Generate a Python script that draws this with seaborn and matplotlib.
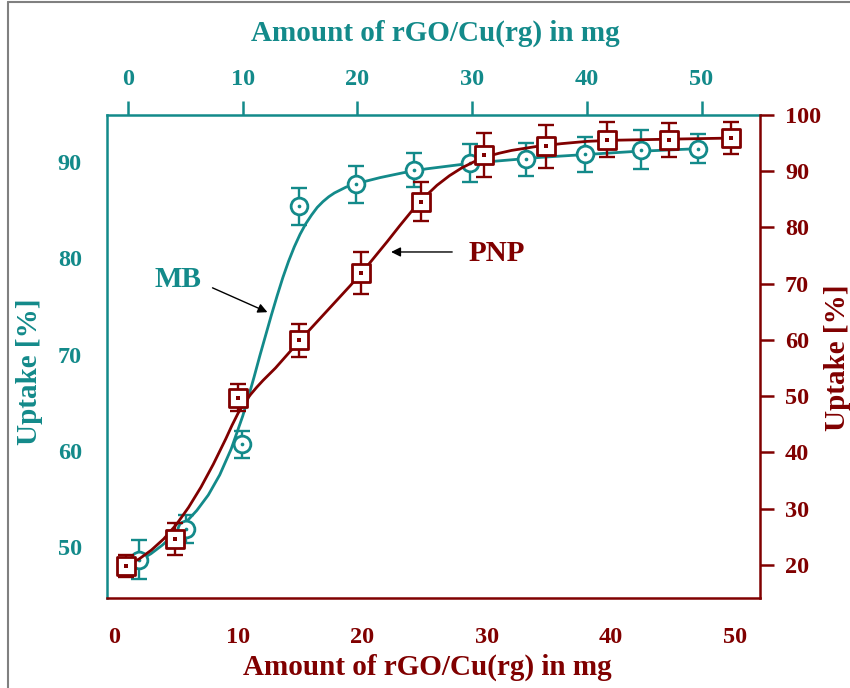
import numpy as np
import pandas as pd
import seaborn as sns
import matplotlib.pyplot as plt
from matplotlib.lines import Line2D

# MB (teal) - top x axis / left y axis
mb_x = [1.0, 5.1, 9.9, 14.9, 19.9, 24.9, 29.8, 34.7, 39.8, 44.7, 49.7]
mb_y = [48.7, 51.9, 60.7, 85.4, 87.7, 89.2, 89.9, 90.3, 90.8, 91.3, 91.4]
mb_err = [2.0, 1.45, 1.4, 1.95, 1.9, 1.8, 2.0, 1.7, 1.85, 2.0, 1.5]

# fitted curve for MB
mb_fit_x = [1.0, 2.0, 3.0, 4.0, 5.0, 6.0, 7.0, 8.0, 9.0, 10.0, 10.5, 11.0, 11.5, 12.0,
            12.5, 13.0, 13.5, 14.0, 14.5, 15.0, 15.5, 16.0, 16.5, 17.0, 17.5, 18.0,
            19.0, 20.0, 21.0, 22.0, 24.0, 26.0, 28.0, 30.0, 33.0, 36.0, 40.0, 44.0,
            47.8, 49.7]
mb_fit_y = [48.6, 49.3, 50.2, 51.3, 52.5, 53.8, 55.4, 57.5, 60.2, 63.6, 65.6, 67.7,
            69.9, 72.0, 74.1, 76.1, 78.0, 79.7, 81.2, 82.5, 83.6, 84.5, 85.3, 85.9,
            86.4, 86.8, 87.4, 87.8, 88.1, 88.4, 88.9, 89.3, 89.6, 89.9, 90.2, 90.5,
            90.8, 91.1, 91.3, 91.4]

# PNP (maroon) - bottom x axis / right y axis
pnp_x = [0.95, 4.9, 10.0, 14.9, 19.9, 24.7, 29.8, 34.8, 39.7, 44.7, 49.7]
pnp_y = [19.8, 24.6, 49.7, 59.9, 71.9, 84.6, 92.9, 94.4, 95.6, 95.6, 95.9]
pnp_err = [2.0, 2.9, 2.4, 3.0, 3.75, 3.5, 3.9, 3.9, 3.1, 3.0, 2.85]

pnp_fit_x = [0.95, 2.0, 3.0, 4.0, 5.0, 6.0, 7.0, 8.0, 9.0, 9.5, 10.0, 10.5, 11.0, 11.5,
             12.0, 13.0, 14.0, 15.0, 16.0, 17.0, 18.0, 19.0, 20.0, 21.0, 22.0, 23.0,
             24.0, 25.0, 26.0, 27.0, 28.0, 29.0, 30.0, 31.0, 32.0, 34.0, 36.0, 38.0,
             40.0, 44.7, 49.7]
pnp_fit_y = [19.9, 21.0, 22.6, 24.6, 27.1, 30.2, 33.8, 37.9, 42.4, 44.8, 47.0, 48.8,
             50.3, 51.6, 52.8, 55.0, 57.5, 60.0, 62.4, 64.8, 67.2, 69.6, 72.1, 74.8,
             77.5, 80.3, 83.0, 85.4, 87.5, 89.2, 90.6, 91.7, 92.6, 93.2, 93.7, 94.4,
             94.9, 95.3, 95.5, 95.7, 95.9]

x_ticks = [0, 10, 20, 30, 40, 50]
mb_yticks = [50, 60, 70, 80, 90]
pnp_yticks = [20, 30, 40, 50, 60, 70, 80, 90, 100]

teal = "#138a8a"
maroon = "#800000"

sns.set_style("white")
plt.rcParams["font.family"] = ["Liberation Serif", "DejaVu Serif"]
plt.rcParams["font.weight"] = "bold"

fig = plt.figure(figsize=(8.5, 6.88), dpi=100)
rect = [107 / 850, 1 - 598 / 688, 653 / 850, 483 / 688]
ax_mb = fig.add_axes(rect)
ax_pnp = fig.add_axes(rect)
ax_pnp.set_facecolor("none")

mb_fit = pd.DataFrame({"x": mb_fit_x, "y": mb_fit_y})
pnp_fit = pd.DataFrame({"x": pnp_fit_x, "y": pnp_fit_y})
mb_df = pd.DataFrame({"x": mb_x, "y": mb_y})
pnp_df = pd.DataFrame({"x": pnp_x, "y": pnp_y})

# MB
sns.lineplot(data=mb_fit, x="x", y="y", ax=ax_mb, color=teal, lw=2, sort=False, zorder=2)
ax_mb.errorbar(mb_x, mb_y, yerr=mb_err, fmt="none", ecolor=teal, elinewidth=1.7,
               capsize=5.8, capthick=1.7, zorder=3)
sns.scatterplot(data=mb_df, x="x", y="y", ax=ax_mb, marker="o", s=145, facecolor="white",
                edgecolor=teal, linewidth=2.0, zorder=4)
sns.scatterplot(data=mb_df, x="x", y="y", ax=ax_mb, marker="o", s=7, color=teal,
                edgecolor=teal, linewidth=0, zorder=5)

# PNP
sns.lineplot(data=pnp_fit, x="x", y="y", ax=ax_pnp, color=maroon, lw=2, sort=False, zorder=2)
ax_pnp.errorbar(pnp_x, pnp_y, yerr=pnp_err, fmt="none", ecolor=maroon, elinewidth=1.7,
                capsize=5.8, capthick=1.7, zorder=3)
sns.scatterplot(data=pnp_df, x="x", y="y", ax=ax_pnp, marker="s", s=155, facecolor="white",
                edgecolor=maroon, linewidth=2.0, zorder=4)
sns.scatterplot(data=pnp_df, x="x", y="y", ax=ax_pnp, marker="s", s=6, color=maroon,
                edgecolor=maroon, linewidth=0, zorder=5)

# axes MB: top + left
ax_mb.set_xlim(-1.83, 55.1)
ax_mb.set_ylim(44.7, 94.9)
ax_mb.xaxis.tick_top()
ax_mb.set_xticks(x_ticks)
ax_mb.set_yticks(mb_yticks)
ax_mb.set_xlabel("")
ax_mb.set_ylabel("")
for s in ["bottom", "right"]:
    ax_mb.spines[s].set_visible(False)
for s in ["top", "left"]:
    ax_mb.spines[s].set_color(teal)
    ax_mb.spines[s].set_linewidth(1.8)
ax_mb.tick_params(axis="both", colors=teal, labelsize=17.5, length=10, width=1.8,
                  direction="out", pad=8)
ax_mb.tick_params(axis="x", top=True, bottom=False, labeltop=True, labelbottom=False)

# axes PNP: bottom + right
ax_pnp.set_xlim(-0.56, 52.0)
ax_pnp.set_ylim(14.1, 100)
ax_pnp.yaxis.tick_right()
ax_pnp.set_xticks(x_ticks)
ax_pnp.set_yticks(pnp_yticks)
ax_pnp.set_xlabel("")
ax_pnp.set_ylabel("")
for s in ["top", "left"]:
    ax_pnp.spines[s].set_visible(False)
for s in ["bottom", "right"]:
    ax_pnp.spines[s].set_color(maroon)
    ax_pnp.spines[s].set_linewidth(1.8)
ax_pnp.tick_params(axis="both", colors=maroon, labelsize=17.5, length=10, width=1.8,
                   direction="out", pad=8)
ax_pnp.tick_params(axis="x", pad=11)
ax_pnp.tick_params(axis="y", left=False, right=True, labelleft=False, labelright=True)

for t in ax_mb.get_xticklabels() + ax_mb.get_yticklabels() + \
        ax_pnp.get_xticklabels() + ax_pnp.get_yticklabels():
    t.set_fontweight("bold")

lab = dict(fontsize=21, fontweight="bold", ha="center", va="center", transform=ax_pnp.transAxes)
ax_pnp.text(0.503, 1.170, "Amount of rGO/Cu(rg) in mg", color=teal, **lab)
ax_pnp.text(0.491, -0.143, "Amount of rGO/Cu(rg) in mg", color=maroon, **lab)
ax_pnp.text(-0.118, 0.468, "Uptake [%]", color=teal, rotation=90, **lab)
ax_pnp.text(1.119, 0.497, "Uptake [%]", color=maroon, rotation=90, **lab)

# annotations
ax_pnp.text(0.109, 0.660, "MB", color=teal, **lab)
ax_pnp.text(0.597, 0.714, "PNP", color=maroon, **lab)
arrow = dict(arrowstyle="-|>", color="black", lw=1.0, mutation_scale=14)
ax_pnp.annotate("", xy=(0.2496, 0.5894), xytext=(0.1577, 0.6445),
                xycoords="axes fraction", textcoords="axes fraction", arrowprops=arrow)
ax_pnp.annotate("", xy=(0.4308, 0.7164), xytext=(0.5329, 0.7164),
                xycoords="axes fraction", textcoords="axes fraction", arrowprops=arrow)

# frame lines from the source page
fig.add_artist(Line2D([8 / 850, 8 / 850], [0, 1 - 2 / 688], color="#808080", lw=1.5))
fig.add_artist(Line2D([8 / 850, 1], [1 - 2 / 688, 1 - 2 / 688], color="#808080", lw=1.5))

fig.savefig("out.png", dpi=100)
